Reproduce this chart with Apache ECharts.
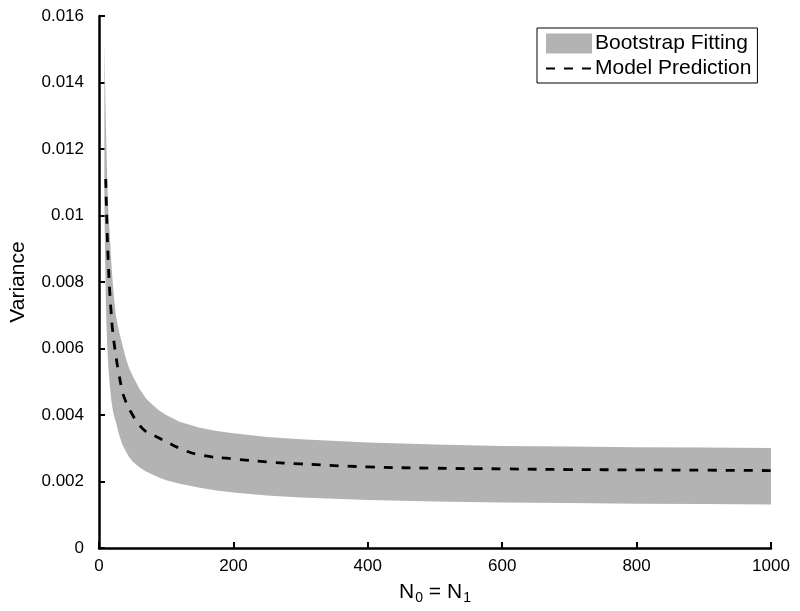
<!DOCTYPE html>
<html>
<head>
<meta charset="utf-8">
<script src="https://cdn.jsdelivr.net/npm/echarts@6/dist/echarts.min.js"></script>
<style>
  html, body { margin: 0; padding: 0; background: #fff; }
  #chart { width: 800px; height: 611px; }
</style>
</head>
<body>
<div id="chart"></div>
<script>
// sample sizes where the band edges were read
const bandN = [8, 9, 10, 11, 12, 13, 14, 16, 18, 20, 22, 25, 28, 30, 35, 40, 45, 50, 60, 70, 80, 90, 100, 120, 150, 175, 200, 250, 300, 400, 500, 600, 700, 800, 900, 1000]
const bandUpper = [0.0152, 0.0140, 0.0130, 0.0121, 0.0113, 0.0106, 0.0101, 0.0094, 0.0087, 0.0081, 0.0076, 0.0070, 0.0067, 0.0065, 0.0061, 0.0057, 0.0054, 0.00518, 0.0048, 0.0045, 0.0043, 0.00413, 0.0040, 0.00380, 0.00362, 0.00352, 0.00345, 0.00334, 0.00327, 0.00317, 0.00311, 0.00307, 0.00305, 0.00303, 0.00302, 0.00301]
const bandLower = [0.0105, 0.0088, 0.0076, 0.0068, 0.0062, 0.0058, 0.0054, 0.0049, 0.0045, 0.0042, 0.0040, 0.0038, 0.00355, 0.0034, 0.0031, 0.0029, 0.00273, 0.0026, 0.00243, 0.0023, 0.0022, 0.00211, 0.00204, 0.00193, 0.00181, 0.00173, 0.00167, 0.00158, 0.00152, 0.00144, 0.0014, 0.00137, 0.00135, 0.00133, 0.00132, 0.00131]

const modelN = [10, 12, 14, 16, 18, 20, 25, 30, 35, 40, 50, 60, 70, 80, 100, 120, 150, 200, 250, 300, 400, 500, 600, 700, 800, 900, 1000]
const modelVar = [0.0111, 0.0096, 0.0085, 0.0077, 0.0071, 0.0066, 0.0058, 0.0052, 0.0047, 0.0044, 0.0040, 0.0037, 0.0035, 0.0034, 0.0032, 0.0030, 0.0028, 0.00268, 0.00259, 0.00253, 0.00244, 0.0024, 0.00238, 0.00236, 0.00235, 0.00234, 0.00233]

const GRAY = '#b3b3b3'
const FONT = 'Liberation Sans, Arial, Helvetica, sans-serif'

const chart = echarts.init(document.getElementById('chart'))

const axisCommon = {
  axisLine: { show: true, lineStyle: { color: '#000', width: 2.5 } },
  axisTick: { show: true, inside: true, length: 6, lineStyle: { color: '#000', width: 2 } },
  splitLine: { show: false },
  axisLabel: { color: '#000', fontSize: 17, fontFamily: FONT }
}

// whole band drawn as one polygon: upper edge forward, lower edge back
const renderBand = (params, api) => {
  if (params.dataIndex !== 0) return null
  const pts = []
  bandN.forEach((n, i) => pts.push(api.coord([n, bandUpper[i]])))
  for (let i = bandN.length - 1; i >= 0; i--) pts.push(api.coord([bandN[i], bandLower[i]]))
  return {
    type: 'polygon',
    shape: { points: pts },
    style: { fill: GRAY, stroke: null }
  }
}

chart.setOption({
  animation: false,
  backgroundColor: '#fff',
  grid: { left: 97, right: 29, top: 16, bottom: 63 },
  legend: {
    orient: 'vertical',
    left: 537, top: 28,
    padding: [5, 6, 4, 8],
    itemGap: 4,
    itemWidth: 46, itemHeight: 20,
    borderColor: '#000', borderWidth: 1,
    textStyle: { color: '#000', fontSize: 21, fontFamily: FONT, padding: [0, 0, 0, -2] },
    data: [
      { name: 'Bootstrap Fitting', icon: 'rect', itemStyle: { color: GRAY } },
      { name: 'Model Prediction', itemStyle: { opacity: 0 } }
    ]
  },
  xAxis: Object.assign({}, axisCommon, {
    type: 'value', min: 0, max: 1000, interval: 200,
    axisLabel: Object.assign({}, axisCommon.axisLabel, { margin: 10, formatter: v => String(v) }),
    name: '{n|N}{s|0}{n| = N}{s|1}',
    nameLocation: 'middle', nameGap: 31,
    nameTextStyle: {
      color: '#000', fontFamily: FONT,
      rich: {
        n: { fontSize: 21, fontFamily: FONT, color: '#000' },
        s: { fontSize: 14, fontFamily: FONT, color: '#000', verticalAlign: 'bottom', padding: [12, 0, 0, 1] }
      }
    }
  }),
  yAxis: Object.assign({}, axisCommon, {
    type: 'value', min: 0, max: 0.016, interval: 0.002,
    axisLabel: Object.assign({}, axisCommon.axisLabel, { margin: 15 }),
    name: 'Variance', nameLocation: 'middle', nameGap: 70,
    nameTextStyle: { color: '#000', fontSize: 21, fontFamily: FONT }
  }),
  series: [
    {
      name: 'Bootstrap Fitting', type: 'custom',
      itemStyle: { color: GRAY },
      renderItem: renderBand,
      encode: { x: 0, y: [1, 2] },
      data: bandN.map((n, i) => [n, bandLower[i], bandUpper[i]]),
      z: 1
    },
    {
      name: 'Model Prediction', type: 'line', symbol: 'none', smooth: true,
      color: '#000',
      lineStyle: { color: '#000', width: 2.8, type: [9, 9] },
      data: modelN.map((n, i) => [n, modelVar[i]]),
      z: 3
    }
  ]
})
</script>
</body>
</html>
